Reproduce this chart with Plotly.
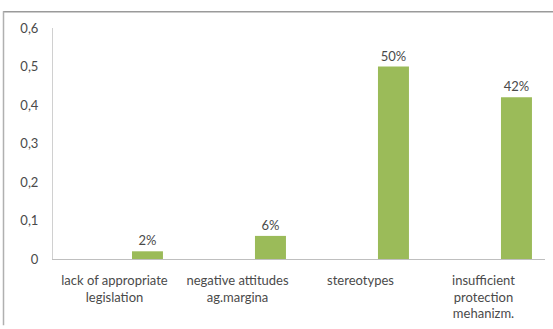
import plotly.graph_objects as go

categories = ["lack of appropriate<br>legislation", "negative attitudes<br>ag.margina",
              "stereotypes", "insufficient<br>protection<br>mehanizm."]
values = [0.02, 0.06, 0.50, 0.42]
ytick_vals = [0, 0.1, 0.2, 0.3, 0.4, 0.5, 0.6]
ytick_text = ["0", "0,1", "0,2", "0,3", "0,4", "0,5", "0,6"]

W, H = 553, 329
ML, MR, MT, MB = 53, 8, 28, 67
pw, ph = W - ML - MR, H - MT - MB

def px(x):
    return (x - ML) / pw

def py(y):
    return (H - MB - y) / ph

FONT = "Lato"
FS = 13
TC = "#4a4a4a"

fig = go.Figure(go.Bar(
    x=categories, y=values,
    marker=dict(color="#9bbb59", line=dict(width=0)),
    width=0.252, offset=0.142,
    texttemplate="%{y:.0%}", textposition="outside",
    textfont=dict(family=FONT, size=FS, color=TC),
    cliponaxis=False,
))

fig.update_layout(
    width=W, height=H,
    margin=dict(l=ML, r=MR, t=MT, b=MB),
    paper_bgcolor="white", plot_bgcolor="white",
    showlegend=False,
    font=dict(family=FONT, size=FS, color=TC),
    xaxis=dict(showline=True, linecolor="#bfbfbf", linewidth=1, showgrid=False,
               ticks="", ticklabelstandoff=9,
               tickfont=dict(family=FONT, size=FS, color=TC), fixedrange=True),
    yaxis=dict(range=[0, 0.6], tickvals=ytick_vals, ticktext=ytick_text,
               showline=True, linecolor="#d0d0d0", linewidth=1, showgrid=False,
               zeroline=False, ticks="", ticklabelstandoff=11,
               tickfont=dict(family=FONT, size=FS, color=TC)),
    shapes=[
        dict(type="line", xref="paper", yref="paper", x0=px(3), x1=px(553), y0=py(11.5), y1=py(11.5),
             line=dict(color="#9a9a9a", width=1.5)),
        dict(type="line", xref="paper", yref="paper", x0=px(3.5), x1=px(3.5), y0=py(11), y1=py(329),
             line=dict(color="#b0b0b0", width=1.5)),
    ],
)

fig.write_html("out.html")
